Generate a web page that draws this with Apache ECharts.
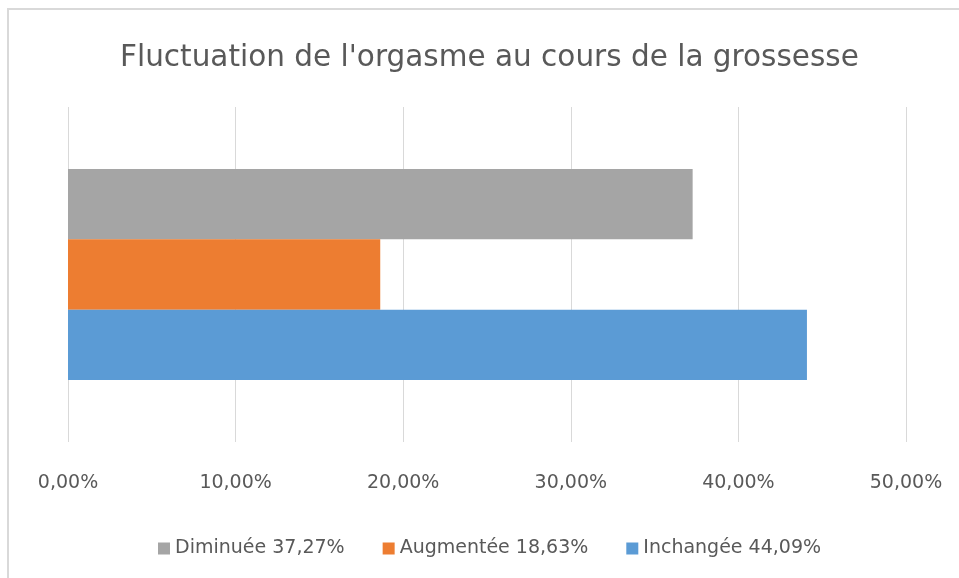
<!DOCTYPE html>
<html><head><meta charset="utf-8">
<script src="https://cdn.jsdelivr.net/npm/echarts@6/dist/echarts.min.js"></script>
<style>html,body{margin:0;padding:0;background:#fff}#c{width:959px;height:578px}</style>
</head><body><div id="c"></div>
<script>
const categories = [''];
const seriesNames = ['Diminuée 37,27%', 'Augmentée 18,63%', 'Inchangée 44,09%'];
const seriesValues = [[37.27], [18.63], [44.09]];
const seriesColors = ['#A5A5A5', '#ED7D31', '#5B9BD5'];
const xTicks = [0, 10, 20, 30, 40, 50];

const chart = echarts.init(document.getElementById('c'), null, {renderer: 'canvas'});
const font = 'DejaVu Sans';
chart.setOption({
  animation: false,
  backgroundColor: '#fff',
  graphic: [{type: 'rect', shape: {x: 8, y: 9, width: 1000, height: 1000}, style: {fill: 'none', stroke: '#d9d9d9', lineWidth: 2}, silent: true}],
  title: {text: "Fluctuation de l'orgasme au cours de la grossesse", left: 115, top: 38,
    textStyle: {fontFamily: font, fontSize: 29.5, fontWeight: 'normal', color: '#595959'}},
  grid: {left: 68, right: 53, top: 107, bottom: 136},
  legend: {data: seriesNames, bottom: 15, left: 153, itemWidth: 12, itemHeight: 12, itemGap: 38, icon: 'rect',
    textStyle: {fontFamily: font, fontSize: 19, color: '#595959'}},
  xAxis: {type: 'value', min: xTicks[0], max: xTicks[xTicks.length - 1], interval: 10,
    axisLine: {show: false}, axisTick: {show: false},
    splitLine: {lineStyle: {color: '#d9d9d9', width: 1}},
    axisLabel: {margin: 32, fontFamily: font, fontSize: 19, color: '#595959', formatter: v => v.toFixed(2).replace('.', ',') + '%'}},
  yAxis: {type: 'category', data: categories, axisLine: {show: false}, axisTick: {show: false}, axisLabel: {show: false}},
  series: seriesNames.map((n, i) => ({name: n, type: 'bar', data: seriesValues[i], itemStyle: {color: seriesColors[i]},
    barGap: '0%', barCategoryGap: '37%'}))
});
</script></body></html>
